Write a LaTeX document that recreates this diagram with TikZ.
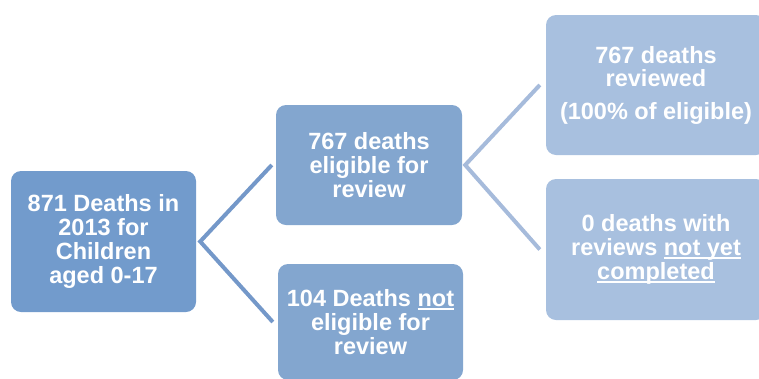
\documentclass[tikz,border=0pt]{standalone}
\usepackage{fontspec}
\setmainfont{Liberation Sans}
\definecolor{fillA}{RGB}{114,155,204}
\definecolor{fillB}{RGB}{131,166,207}
\definecolor{fillD}{RGB}{168,192,223}
\definecolor{connA}{RGB}{116,152,201}
\definecolor{connB}{RGB}{166,187,219}
\newcommand{\uln}[1]{\setbox0\hbox{#1}\rlap{\rule[-3.5pt]{\wd0}{1.8pt}}\box0}
\tikzset{
  box/.style={rectangle, rounded corners=10pt, draw=none, text=white,
    align=center, inner sep=0pt,
    font=\bfseries\fontsize{23.5}{24}\selectfont},
  conn/.style={line width=4pt, line join=miter},
}
\begin{document}
\begin{tikzpicture}[x=1pt,y=-1pt]
\useasboundingbox (0,0) rectangle (759,378);
\begin{scope}
\clip (0,0) rectangle (759,378);
\node[box, fill=fillA, minimum width=185pt, minimum height=141pt] (A) at (103.5,241.5)
  {871 Deaths in\\2013 for\\Children\\aged 0-17};
\node[box, fill=fillB, minimum width=186pt, minimum height=120pt] (B) at (369,165)
  {767 deaths\\eligible for\\review};
\node[box, fill=fillB, minimum width=185pt, minimum height=116pt] (C) at (370.5,322)
  {104 Deaths \uln{not}\\eligible for\\review};
\node[box, fill=fillD, minimum width=220pt, minimum height=140pt] (D) at (656,85)
  {767 deaths\\[-1pt]reviewed\\[9pt](100\% of eligible)};
\node[box, fill=fillD, minimum width=220pt, minimum height=141pt] (E) at (656,249.5)
  {0 deaths with\\reviews \uln{not yet}\\\uln{completed}};
\coordinate (a0) at ([xshift=4pt]A.east);
\coordinate (b1) at ([xshift=-4pt]B.west);
\coordinate (c1) at ([xshift=-5pt]C.west);
\coordinate (b0) at ([xshift=3pt]B.east);
\coordinate (d1) at ([xshift=-6pt]D.west);
\coordinate (e1) at ([xshift=-6pt]E.west);
\draw[conn, draw=connA] (b1) -- (a0) -- (c1);
\draw[conn, draw=connB] (d1) -- (b0) -- (e1);
\end{scope}
\end{tikzpicture}
\end{document}
